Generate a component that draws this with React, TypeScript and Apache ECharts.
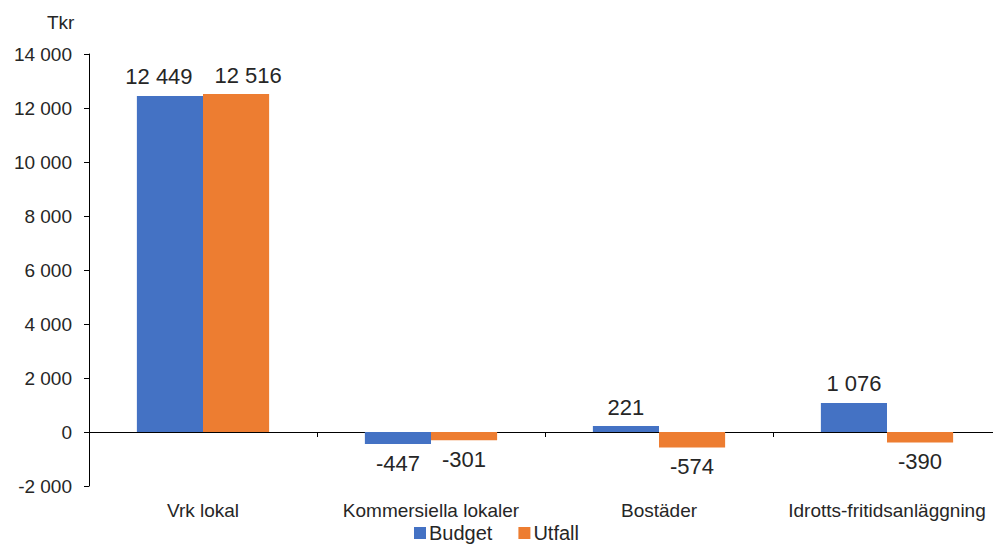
import React, { useEffect, useRef } from "react";
import * as echarts from "echarts";

const categories = ["Vrk lokal", "Kommersiella lokaler", "Bostäder", "Idrotts-fritidsanläggning"];
const budget = [12449, -447, 221, 1076];
const utfall = [12516, -301, -574, -390];
const seriesNames = ["Budget", "Utfall"];
const yMin = -2000;
const yMax = 14000;
const yInterval = 2000;
const unitLabel = "Tkr";

const fmt = (v: number) => {
  const s = Math.abs(Math.round(v)).toString().replace(/\B(?=(\d{3})+(?!\d))/g, " ");
  return (v < 0 ? "-" : "") + s;
};

const FONT = "'Liberation Sans', Arial, sans-serif";
const TXT = "#262626";

const mkData = (arr: number[], firstShift: number) =>
  arr.map((v, i) => ({
    value: v,
    label: { position: v < 0 ? "bottom" : "top", offset: i === 0 ? [firstShift, 0] : [0, 0] },
  }));

export default function App() {
  const ref = useRef<HTMLDivElement>(null);
  useEffect(() => {
    if (!ref.current) return;
    const chart = echarts.init(ref.current, null, { renderer: "svg" });
    const labelCfg = {
      show: true,
      distance: 8,
      fontSize: 22,
      fontFamily: FONT,
      color: TXT,
      formatter: (p: any) => fmt(p.value),
    };
    chart.setOption({
      animation: false,
      backgroundColor: "#ffffff",
      textStyle: { fontFamily: FONT },
      grid: { left: 89, right: -8, top: 54, bottom: 61, containLabel: false, outerBoundsMode: "none" },
      graphic: [
        {
          type: "text",
          left: 47,
          top: 13,
          style: { text: unitLabel, fontSize: 19, fontFamily: FONT, fill: TXT },
        },
      ],
      legend: {
        data: seriesNames,
        left: "center",
        top: 523,
        itemWidth: 12,
        itemHeight: 12,
        itemGap: 26,
        icon: "rect",
        padding: 0,
        textStyle: { fontSize: 20, fontFamily: FONT, color: TXT, padding: [0, 0, 0, -2] },
      },
      xAxis: {
        type: "category",
        data: categories,
        axisLine: { onZero: true, lineStyle: { color: "#000", width: 1 } },
        axisTick: { show: true, length: 5, lineStyle: { color: "#000" } },
        axisLabel: { margin: 15, fontSize: 19, fontFamily: FONT, color: TXT, interval: 0 },
        splitLine: { show: false },
      },
      yAxis: {
        type: "value",
        min: yMin,
        max: yMax,
        interval: yInterval,
        axisLine: { show: true, lineStyle: { color: "#000", width: 1 } },
        axisTick: { show: true, length: 5, lineStyle: { color: "#000" } },
        axisLabel: { margin: 17, fontSize: 19, fontFamily: FONT, color: TXT, formatter: (v: number) => fmt(v) },
        splitLine: { show: false },
      },
      series: [
        {
          name: seriesNames[0],
          type: "bar",
          data: mkData(budget, -11),
          itemStyle: { color: "#4472C4" },
          barGap: "0%",
          barCategoryGap: "42%",
          label: labelCfg,
        },
        {
          name: seriesNames[1],
          type: "bar",
          data: mkData(utfall, 12),
          itemStyle: { color: "#ED7D31" },
          barGap: "0%",
          barCategoryGap: "42%",
          label: labelCfg,
        },
      ],
    });
    return () => chart.dispose();
  }, []);
  return (
    <div
      ref={ref}
      style={{ position: "absolute", left: 0, top: 0, width: 993, height: 547, background: "#fff" }}
    />
  );
}
